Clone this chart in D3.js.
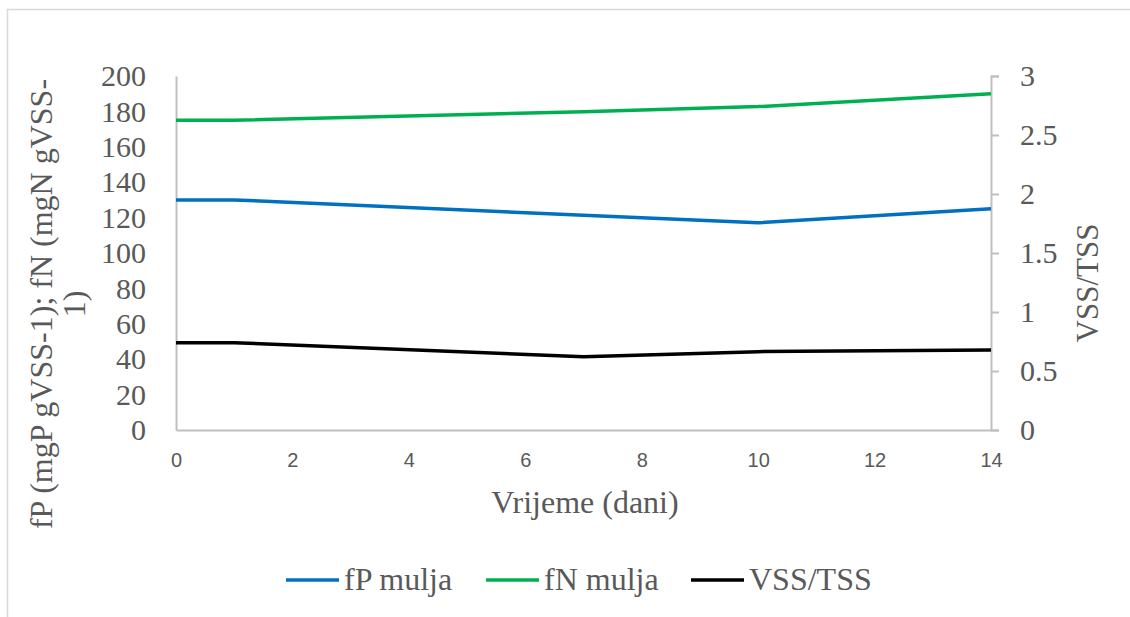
<!DOCTYPE html>
<html lang="hr">
<head>
<meta charset="UTF-8">
<title>fP fN VSS/TSS</title>
<script src="https://cdn.jsdelivr.net/npm/d3@7"></script>
<style>
    body { margin: 0; background: #fff; }
    svg { display: block; }
    .serif { font-family: "Liberation Serif", "Times New Roman", serif; fill: #595959; }
    .sans { font-family: "Liberation Sans", Arial, sans-serif; fill: #595959; }
</style>
</head>
<body>
<svg id="chart"></svg>
<script>
    // chart data
    var days = [0, 1, 7, 10, 14];
    var fP = [130, 130, 121.3, 117.1, 125];
    var fN = [175, 175, 179.8, 182.7, 190];
    var vssTss = [0.74, 0.74, 0.621, 0.664, 0.678];

    var xTicks = [0, 2, 4, 6, 8, 10, 12, 14];
    var leftTicks = [0, 20, 40, 60, 80, 100, 120, 140, 160, 180, 200];
    var rightTicks = [0, 0.5, 1, 1.5, 2, 2.5, 3];

    var width = 1130, height = 617;
    var margin = {left: 176, right: 139, top: 76, bottom: 187};

    var svg = d3.select('#chart').attr('width', width).attr('height', height);

    // outer frame
    svg.append('path')
        .attr('d', 'M7.5,617 V9.5 H1130')
        .attr('fill', 'none')
        .attr('stroke', '#d9d9d9')
        .attr('stroke-width', 1.5);

    var x = d3.scaleLinear().domain([0, 14]).range([margin.left, width - margin.right]);
    var yL = d3.scaleLinear().domain([0, 200]).range([height - margin.bottom, margin.top]);
    var yR = d3.scaleLinear().domain([0, 3]).range([height - margin.bottom, margin.top]);

    // x axis
    var gx = svg.append('g')
        .attr('transform', 'translate(0,' + yL(0) + ')')
        .call(d3.axisBottom(x).tickValues(xTicks).tickSize(0).tickPadding(23));
    gx.select('.domain').attr('stroke', '#bfbfbf').attr('stroke-width', 2);
    gx.selectAll('text').attr('class', 'sans').style('font-size', '20px').attr('fill', '#595959');

    // left axis
    var gl = svg.append('g')
        .attr('transform', 'translate(' + margin.left + ',0)')
        .call(d3.axisLeft(yL).tickValues(leftTicks).tickSize(0).tickPadding(30));
    gl.select('.domain').attr('stroke', '#bfbfbf').attr('stroke-width', 2);
    gl.selectAll('text').attr('class', 'serif').style('font-size', '30px').attr('fill', '#595959');

    // right axis
    var gr = svg.append('g')
        .attr('transform', 'translate(' + (width - margin.right) + ',0)')
        .call(d3.axisRight(yR).tickValues(rightTicks).tickSize(8).tickPadding(21)
            .tickFormat(function (d) { return d; }));
    gr.select('.domain').attr('stroke', '#bfbfbf').attr('stroke-width', 2);
    gr.selectAll('line').attr('stroke', '#bfbfbf').attr('stroke-width', 2);
    gr.selectAll('text').attr('class', 'serif').style('font-size', '30px').attr('fill', '#595959');

    // series lines
    function drawLine(values, yScale, color) {
        var line = d3.line()
            .x(function (d, i) { return x(days[i]); })
            .y(function (d) { return yScale(d); });
        svg.append('path')
            .datum(values)
            .attr('d', line)
            .attr('fill', 'none')
            .attr('stroke', color)
            .attr('stroke-width', 3.5)
            .attr('stroke-linejoin', 'round');
    }
    drawLine(fP, yL, '#0070c0');
    drawLine(fN, yL, '#00b050');
    drawLine(vssTss, yR, '#000000');

    // axis titles
    svg.append('text').attr('class', 'serif')
        .attr('x', 585).attr('y', 513)
        .attr('text-anchor', 'middle').style('font-size', '32px')
        .text('Vrijeme (dani)');

    var lt = svg.append('text').attr('class', 'serif')
        .attr('transform', 'translate(52,304) rotate(-90)')
        .attr('text-anchor', 'middle').style('font-size', '32px');
    lt.append('tspan').attr('x', 0).attr('dy', 0).text('fP (mgP gVSS-1); fN (mgN gVSS-');
    lt.append('tspan').attr('x', 0).attr('dy', 33).text('1)');

    svg.append('text').attr('class', 'serif')
        .attr('transform', 'translate(1098,283) rotate(-90)')
        .attr('text-anchor', 'middle').style('font-size', '31px')
        .text('VSS/TSS');

    // legend
    var legend = [
        {name: 'fP mulja', color: '#0070c0', x: 286},
        {name: 'fN mulja', color: '#00b050', x: 486},
        {name: 'VSS/TSS', color: '#000000', x: 691}
    ];
    var lg = svg.append('g').selectAll('g').data(legend).enter().append('g')
        .attr('transform', function (d) { return 'translate(' + d.x + ',580)'; });
    lg.append('line')
        .attr('x1', 0).attr('x2', 53).attr('y1', 0).attr('y2', 0)
        .attr('stroke', function (d) { return d.color; })
        .attr('stroke-width', 3.5);
    lg.append('text').attr('class', 'serif')
        .attr('x', 58).attr('y', 10).style('font-size', '32px')
        .text(function (d) { return d.name; });
</script>
</body>
</html>
